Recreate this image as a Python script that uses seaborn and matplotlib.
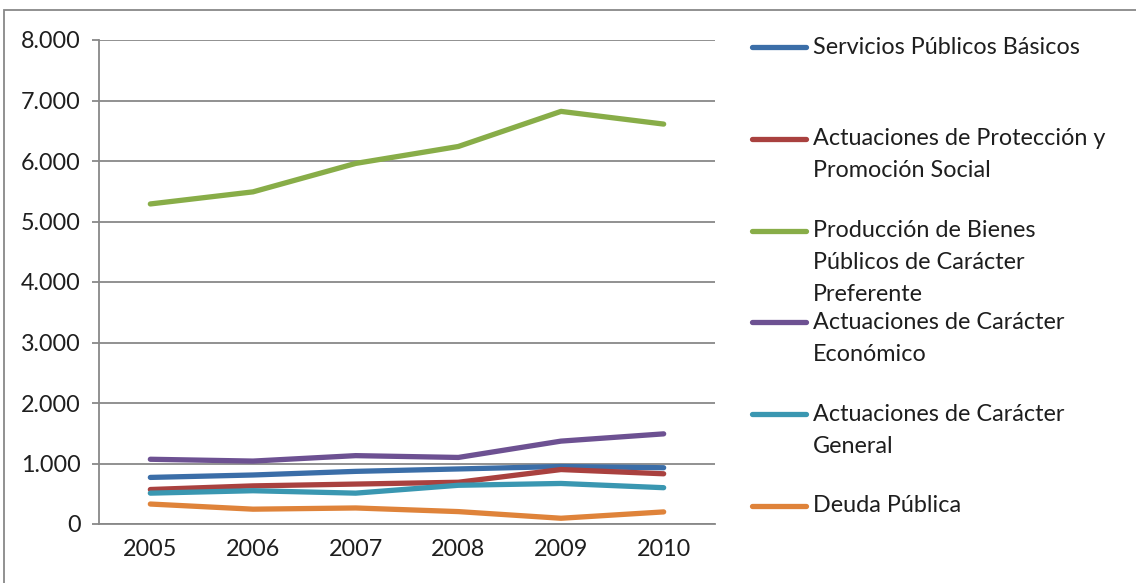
import pandas as pd
import matplotlib
matplotlib.use("Agg")
import matplotlib.pyplot as plt
from matplotlib.lines import Line2D
from matplotlib.patches import Rectangle
from matplotlib.ticker import FuncFormatter, FixedLocator
import seaborn as sns

years = ["2005", "2006", "2007", "2008", "2009", "2010"]

series = [
    "Servicios Públicos Básicos",
    "Actuaciones de Protección y Promoción Social",
    "Producción de Bienes Públicos de Carácter Preferente",
    "Actuaciones de Carácter Económico",
    "Actuaciones de Carácter General",
    "Deuda Pública",
]
legend_lines = [
    ["Servicios Públicos Básicos"],
    ["Actuaciones de Protección y", "Promoción Social"],
    ["Producción de Bienes", "Públicos de Carácter", "Preferente"],
    ["Actuaciones de Carácter", "Económico"],
    ["Actuaciones de Carácter", "General"],
    ["Deuda Pública"],
]

servicios = [770, 810, 870, 910, 950, 930]
proteccion = [570, 630, 660, 690, 900, 830]
bienes = [5290, 5490, 5960, 6240, 6820, 6610]
economico = [1070, 1040, 1130, 1100, 1370, 1490]
general = [510, 550, 510, 640, 670, 600]
deuda = [330, 245, 265, 205, 95, 200]

colors = ["#3b6ea8", "#a9413f", "#88ad48", "#6d5192", "#3a97b1", "#df833a"]

values = [servicios, proteccion, bienes, economico, general, deuda]
rows = []
for name, vals in zip(series, values):
    for i, v in enumerate(vals):
        rows.append({"pos": i, "serie": name, "valor": v})
df = pd.DataFrame(rows)

sns.set_style("white")
plt.rcParams["font.family"] = ["Lato", "DejaVu Sans"]
text_color = "#1e1e1e"
grid_color = "#888888"
fs = 16.8

W, H = 1136, 583
fig = plt.figure(figsize=(W / 100, H / 100), dpi=100)
ax = fig.add_axes([99 / W, 1 - 524 / H, (715 - 99) / W, (524 - 40) / H])

sns.lineplot(data=df, x="pos", y="valor", hue="serie", hue_order=series,
             palette=colors, linewidth=3.8, legend=False, ax=ax,
             solid_capstyle="round")

ax.set_ylim(0, 8000)
ax.set_xlim(-0.5, len(years) - 0.5)
ax.set_yticks(range(0, 8001, 1000))
ax.yaxis.set_major_formatter(FuncFormatter(lambda v, p: f"{v:,.0f}".replace(",", ".")))
ax.set_xticks(range(len(years)))
ax.set_xticklabels(years)
ax.xaxis.set_minor_locator(FixedLocator([i - 0.5 for i in range(len(years) + 1)]))
ax.tick_params(axis="x", which="major", length=0, pad=11, labelsize=fs, labelcolor=text_color)
ax.tick_params(axis="x", which="minor", length=6, width=1.3, color=grid_color, direction="out")
ax.tick_params(axis="y", length=5, width=1.3, color=grid_color, direction="out",
               pad=8, labelsize=fs, labelcolor=text_color, left=True)
ax.set_xlabel("")
ax.set_ylabel("")
ax.yaxis.grid(True, color=grid_color, linewidth=1.3)
ax.set_axisbelow(True)
for s in ["top", "right"]:
    ax.spines[s].set_visible(False)
for s in ["left", "bottom"]:
    ax.spines[s].set_color(grid_color)
    ax.spines[s].set_linewidth(1.3)

# legend drawn Excel-style: equal spacing, handle aligned with first line
y0, step, line_gap = 47, 91.8, 32
for i, (lines, c) in enumerate(zip(legend_lines, colors)):
    yc = y0 + i * step
    fig.add_artist(Line2D([752 / W, 806 / W], [1 - yc / H, 1 - yc / H],
                          color=c, linewidth=3.8, solid_capstyle="round"))
    for j, t in enumerate(lines):
        fig.text(813 / W, 1 - (yc + j * line_gap) / H, t, fontsize=fs,
                 color=text_color, va="center", ha="left")

fig.add_artist(Rectangle((4 / W, -0.05), 1.2, 1.05 - 10 / H, fill=False,
                         edgecolor=grid_color, linewidth=1.3))

fig.savefig("out.png", dpi=100)
